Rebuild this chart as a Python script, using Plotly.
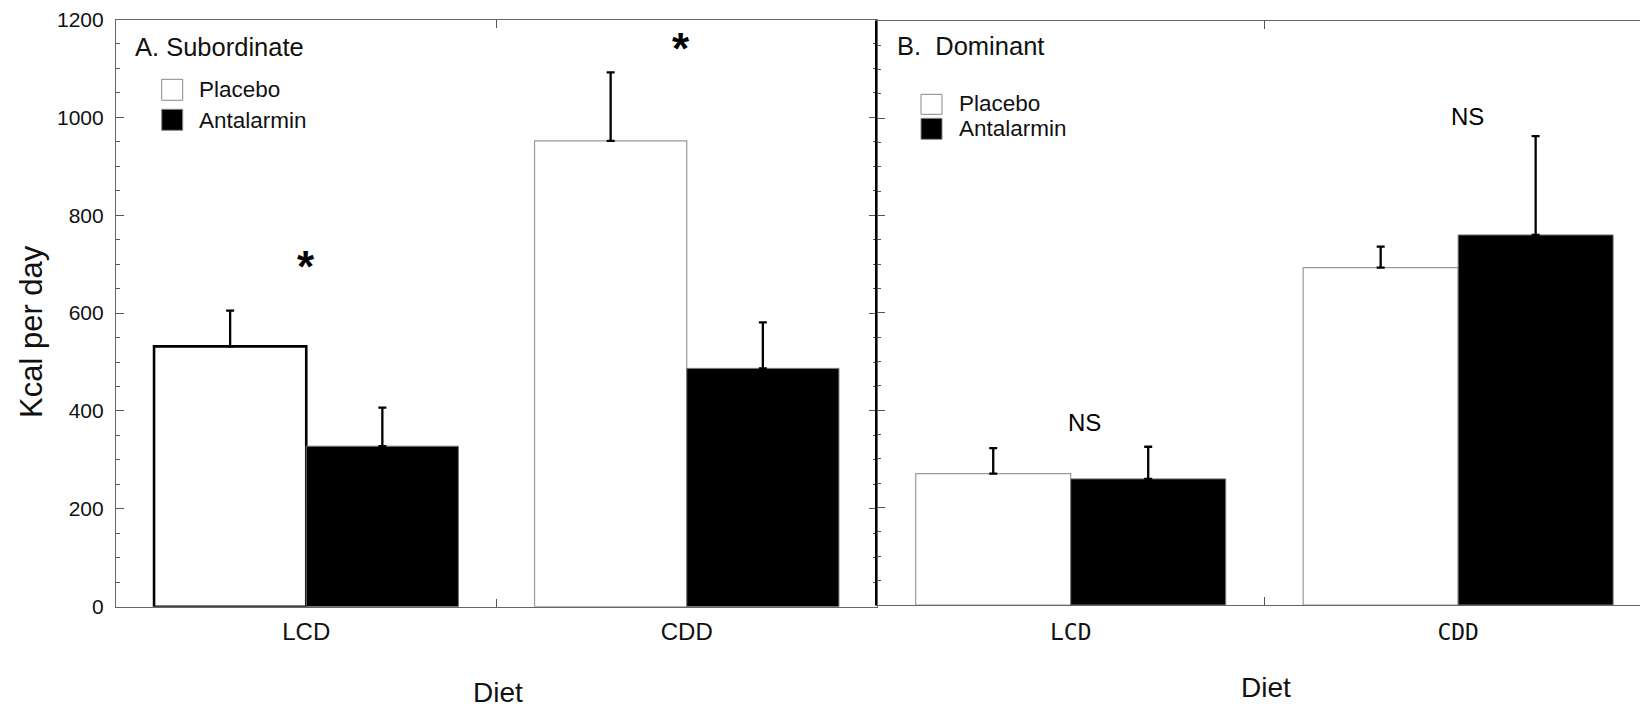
import plotly.graph_objects as go

# ---------------- data ----------------
diets = ["LCD", "CDD"]
groups = ["Placebo", "Antalarmin"]

sub_placebo = [532, 952]
sub_placebo_sem = [73, 140]
sub_antalarmin = [328, 487]
sub_antalarmin_sem = [79, 94]

dom_placebo = [270, 693]
dom_placebo_sem = [52, 43]
dom_antalarmin = [259, 760]
dom_antalarmin_sem = [66, 203]

sub_marks = ["*", "*"]
sub_mark_y = [707, 1153]
dom_marks = ["NS", "NS"]
dom_mark_y = [374, 1003]

y_ticks = [0, 200, 400, 600, 800, 1000, 1200]

# ---------------- layout helpers ----------------
# the page body adds an 8px margin, so the figure is drawn 8px smaller and
# page-pixel positions are converted to figure-paper fractions.
OX, OY = 8, 8
W, H = 1648 - OX, 710 - OY
FONT = "Liberation Sans, Arial, Helvetica, sans-serif"
MONO = "DejaVu Sans Mono, monospace"


def px(x):
    return (x - OX) / W


def py(y):
    return 1 - (y - OY) / H


fig = go.Figure()

err_style = dict(type="data", symmetric=False, color="black", thickness=2.3, width=4)

# Panel A
fig.add_trace(go.Bar(
    x=diets, y=sub_placebo, name=groups[0], xaxis="x", yaxis="y",
    marker=dict(color="white", line=dict(color=["black", "#9a9a9a"], width=[2.6, 1.2])),
    error_y=dict(array=sub_placebo_sem, arrayminus=[0, 0], **err_style),
    showlegend=False,
))
fig.add_trace(go.Bar(
    x=diets, y=sub_antalarmin, name=groups[1], xaxis="x", yaxis="y",
    marker=dict(color="black", line=dict(color="#777", width=1)),
    error_y=dict(array=sub_antalarmin_sem, arrayminus=[0, 0], **err_style),
    showlegend=False,
))
# Panel B
fig.add_trace(go.Bar(
    x=diets, y=dom_placebo, name=groups[0], xaxis="x2", yaxis="y2",
    marker=dict(color="white", line=dict(color="#9a9a9a", width=1.2)),
    error_y=dict(array=dom_placebo_sem, arrayminus=[0, 0], **err_style),
    showlegend=False,
))
fig.add_trace(go.Bar(
    x=diets, y=dom_antalarmin, name=groups[1], xaxis="x2", yaxis="y2",
    marker=dict(color="black", line=dict(color="#777", width=1)),
    error_y=dict(array=dom_antalarmin_sem, arrayminus=[0, 0], **err_style),
    showlegend=False,
))

yaxis_common = dict(
    range=[0, 1200], tickvals=y_ticks, ticks="inside", ticklen=8, tickwidth=1,
    tickcolor="#555", showline=True, linewidth=1.2, linecolor="#666",
    showgrid=False, zeroline=False, mirror="ticks", automargin=False,
    ticklabeloverflow="allow",
    minor=dict(dtick=50, ticks="inside", ticklen=4, tickcolor="#555", showgrid=False),
)
xaxis_common = dict(
    type="category", tickson="boundaries", ticks="inside", ticklen=8,
    tickcolor="#555", showline=True, linewidth=1.2, linecolor="#666",
    mirror="ticks", showgrid=False, zeroline=False, automargin=False,
    ticklabeloverflow="allow",
)

fig.update_layout(
    width=W, height=H,
    margin=dict(l=0, r=0, t=0, b=0, autoexpand=False),
    paper_bgcolor="white", plot_bgcolor="white",
    barmode="group", bargap=0.2, bargroupgap=0,
    font=dict(family=FONT, color="#111"),
    xaxis=dict(domain=[px(116), px(877)], range=[-0.5, 1.5], anchor="y",
               tickfont=dict(family=FONT, size=24, color="#111"), ticklabelstandoff=3,
               **xaxis_common),
    yaxis=dict(domain=[py(606.7), py(19.5)], anchor="x",
               tickfont=dict(family=FONT, size=21, color="#111"), ticklabelstandoff=7,
               **yaxis_common),
    xaxis2=dict(domain=[px(877), 1.0], range=[-0.5, 1.49], anchor="y2",
                tickfont=dict(family=MONO, size=23, color="#111"), ticklabelstandoff=6,
                **xaxis_common),
    yaxis2=dict(domain=[py(605), py(20.7)], anchor="x2", showticklabels=False,
                **{**yaxis_common, "linecolor": "black", "linewidth": 2}),
)


def note(text, x, y, size, **kw):
    d = dict(text=text, x=px(x), y=py(y), xref="paper", yref="paper",
             xanchor="left", yanchor="middle", showarrow=False, font=dict(size=size))
    d.update(kw)
    return d


ann = []
# panel titles
ann.append(note("A. Subordinate", 133, 47, 25.5))
ann.append(note("B.\u00a0 Dominant", 895, 46, 25.5))
# legends text
leg_a = [(197, 90), (197, 120)]
leg_b = [(957, 104), (957, 129)]
for (lx, ly), g in zip(leg_a, groups):
    ann.append(note(g, lx, ly, 22.5))
for (lx, ly), g in zip(leg_b, groups):
    ann.append(note(g, lx, ly, 22.5))
# significance marks
for d, m, yv, xs in zip(diets, sub_marks, sub_mark_y, [0, -6]):
    ann.append(dict(text="<b>" + m + "</b>", x=d, y=yv, xref="x", yref="y", xshift=xs,
                    yshift=-6, xanchor="center", yanchor="middle",
                    showarrow=False, font=dict(size=44, color="black")))
for d, m, yv, xs in zip(diets, dom_marks, dom_mark_y, [14, 9]):
    ann.append(dict(text=m, x=d, y=yv, xref="x2", yref="y2", xshift=xs, yshift=0,
                    xanchor="center", yanchor="middle",
                    showarrow=False, font=dict(size=24, color="black")))
# axis titles
ann.append(note("Diet", 498, 692, 28, xanchor="center"))
ann.append(note("Diet", 1266, 687, 28, xanchor="center"))
ann.append(note("Kcal per day", 31, 332, 31, xanchor="center", textangle=-90))
fig.update_layout(annotations=ann)

# legend swatches
shapes = []
sw_a = [(161.7, 79.3, 182.7, 100.3), (161.7, 109.3, 182.7, 130.3)]
sw_b = [(921, 94.3, 942, 114.3), (921, 118.3, 942, 139.3)]
for sw in (sw_a, sw_b):
    for (x0, y0, x1, y1), fill in zip(sw, ["white", "black"]):
        shapes.append(dict(type="rect", xref="paper", yref="paper",
                           x0=px(x0), x1=px(x1), y0=py(y1), y1=py(y0),
                           fillcolor=fill, line=dict(color="#888", width=1)))
fig.update_layout(shapes=shapes)

fig.write_html("out.html")
